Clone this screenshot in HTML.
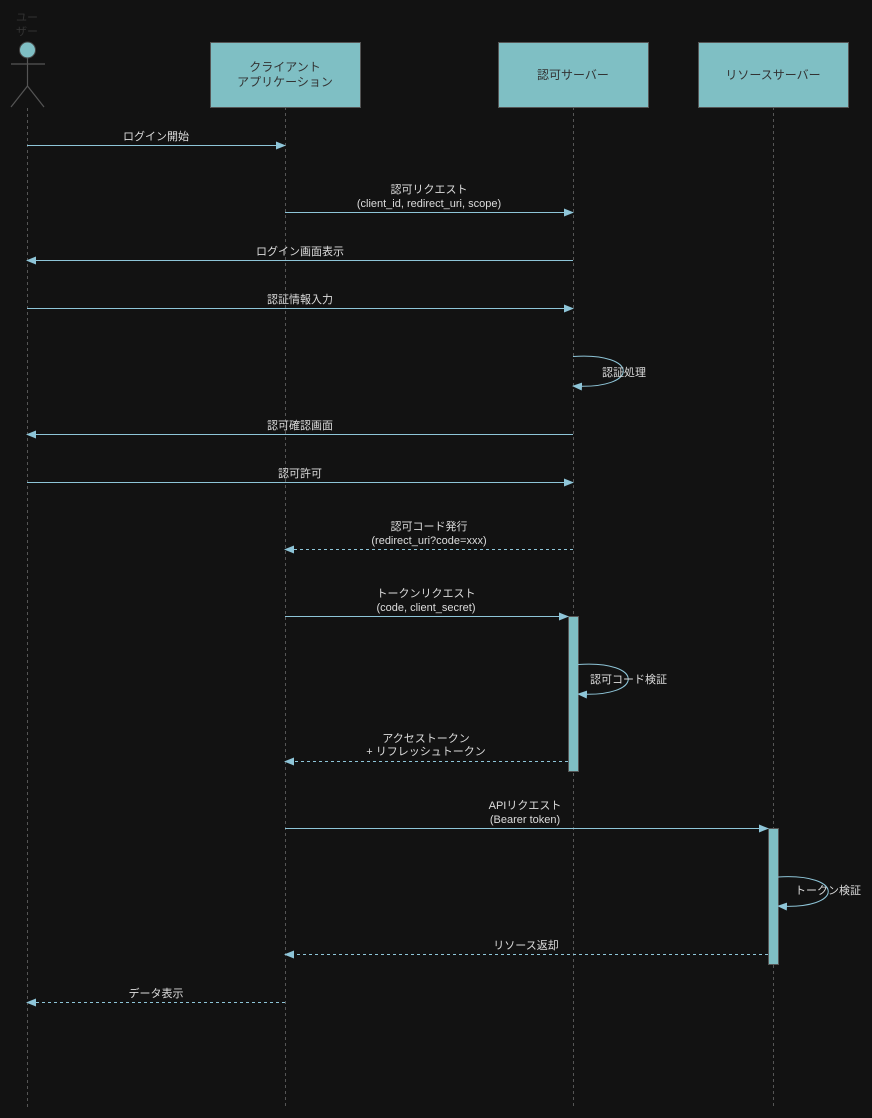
<!DOCTYPE html>
<html><head><meta charset="utf-8"><style>
html,body{margin:0;padding:0;background:#121212;}
svg{display:block;}
text{font-family:"Liberation Sans","Noto Sans CJK JP",sans-serif;font-size:11px;fill:#dcdcdc;}
</style></head><body>
<svg width="872" height="1118" viewBox="0 0 872 1118" xmlns="http://www.w3.org/2000/svg">
<defs>
<marker id="a" markerWidth="10" markerHeight="8" refX="9" refY="4" orient="auto" markerUnits="userSpaceOnUse">
<path d="M0,0 L10,4 L0,8 Z" fill="#8ec5d8"/></marker>
</defs>
<rect width="872" height="1118" fill="#121212"/>
<g stroke="#555" stroke-dasharray="3,3" stroke-width="1">
<line x1="27.5" y1="108" x2="27.5" y2="1108"/>
<line x1="285.5" y1="107" x2="285.5" y2="1108"/>
<line x1="573.5" y1="107" x2="573.5" y2="1108"/>
<line x1="773.5" y1="107" x2="773.5" y2="1108"/>
</g>
<text x="27" y="21" text-anchor="middle" style="fill:#333">ユー</text>
<text x="27" y="35" text-anchor="middle" style="fill:#333">ザー</text>
<circle cx="27.5" cy="50" r="8" fill="#7fbfc4" stroke="#444"/>
<g stroke="#555" stroke-width="1.2" fill="none">
<line x1="27.5" y1="58" x2="27.5" y2="86"/><line x1="11" y1="64" x2="45" y2="64"/>
<line x1="27.5" y1="86" x2="11" y2="107"/><line x1="27.5" y1="86" x2="44" y2="107"/>
</g>
<g fill="#7fbfc4" stroke="#555">
<rect x="210.5" y="42.5" width="150" height="65"/>
<rect x="498.5" y="42.5" width="150" height="65"/>
<rect x="698.5" y="42.5" width="150" height="65"/>
<rect x="568.5" y="616.5" width="10" height="155"/>
<rect x="768.5" y="828.5" width="10" height="136"/>
</g>
<g style="font-size:12px">
<text x="285" y="71" text-anchor="middle" style="fill:#333;font-size:12px">クライアント</text>
<text x="285" y="86" text-anchor="middle" style="fill:#333;font-size:12px">アプリケーション</text>
<text x="573" y="79" text-anchor="middle" style="fill:#333;font-size:12px">認可サーバー</text>
<text x="773" y="79" text-anchor="middle" style="fill:#333;font-size:12px">リソースサーバー</text>
</g>
<g stroke="#8ec5d8" stroke-width="1" fill="none" marker-end="url(#a)">
<line x1="27" y1="145.5" x2="285" y2="145.5"/>
<line x1="285" y1="212.5" x2="573" y2="212.5"/>
<line x1="573" y1="260.5" x2="27" y2="260.5"/>
<line x1="27" y1="308.5" x2="573" y2="308.5"/>
<path d="M573,356.5 C640,352 640,390 573,386"/>
<line x1="573" y1="434.5" x2="27" y2="434.5"/>
<line x1="27" y1="482.5" x2="573" y2="482.5"/>
<line x1="573" y1="549.5" x2="285" y2="549.5" stroke-dasharray="3,3"/>
<line x1="285" y1="616.5" x2="568" y2="616.5"/>
<path d="M578,664.5 C645,660 645,698 578,694"/>
<line x1="568" y1="761.5" x2="285" y2="761.5" stroke-dasharray="3,3"/>
<line x1="285" y1="828.5" x2="768" y2="828.5"/>
<path d="M778,877 C845,873 845,910 778,906"/>
<line x1="768" y1="954.5" x2="285" y2="954.5" stroke-dasharray="3,3"/>
<line x1="285" y1="1002.5" x2="27" y2="1002.5" stroke-dasharray="3,3"/>
</g>
<g text-anchor="middle">
<text x="156" y="140">ログイン開始</text>
<text x="429" y="193">認可リクエスト</text>
<text x="429" y="207">(client_id, redirect_uri, scope)</text>
<text x="300" y="255">ログイン画面表示</text>
<text x="300" y="303">認証情報入力</text>
<text x="300" y="429">認可確認画面</text>
<text x="300" y="477">認可許可</text>
<text x="429" y="530">認可コード発行</text>
<text x="429" y="544">(redirect_uri?code=xxx)</text>
<text x="426" y="597">トークンリクエスト</text>
<text x="426" y="611">(code, client_secret)</text>
<text x="426" y="742">アクセストークン</text>
<text x="426" y="755">+ リフレッシュトークン</text>
<text x="525" y="809">APIリクエスト</text>
<text x="525" y="823">(Bearer token)</text>
<text x="526" y="949">リソース返却</text>
<text x="156" y="997">データ表示</text>
</g>
<text x="602" y="376">認証処理</text>
<text x="590" y="683">認可コード検証</text>
<text x="795" y="894">トークン検証</text>
</svg>
</body></html>
